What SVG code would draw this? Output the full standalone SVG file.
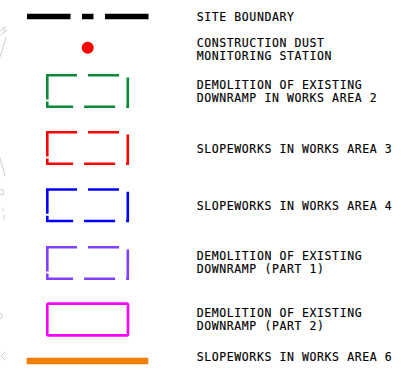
<svg xmlns="http://www.w3.org/2000/svg" width="401" height="375" viewBox="0 0 401 375">
<style>
.bg{fill:none;stroke:#cfcfcf;stroke-width:1;stroke-linecap:round}
.box{fill:none;stroke-width:2.6;stroke-linecap:square;stroke-linejoin:miter;stroke-dasharray:28.4 13.6 28.4 13.6 28.4 13.6 28.4 13.6 28.4 4.6 23 40}
.lbl{font-family:"DejaVu Sans Mono","Liberation Mono",monospace;font-size:11.5px;letter-spacing:0.6px;fill:#000;stroke:#000;stroke-width:0.15}
</style>
<rect width="401" height="375" fill="#fff"/>
<g id="background">
<path class="bg" d="M0,31 L6,27 M1,35 L7,30 M3,27 L5,32 M6,38 L0,57 M0,158 L5,176 M0,189 L4,191 L3,195 L0,194 M3,208 L3,211 M4,215 L4,220 M0,313 L3,316 L0,319 M5,352 L1,356 L5,360"/>
</g>
<g id="connectors"></g>
<g id="site-boundary">
<line x1="27" y1="16.5" x2="148.5" y2="16.5" stroke="#000" stroke-width="5.5" stroke-dasharray="43.5 11.5 11.5 11.5 43.5 50"/>
<text class="lbl" x="196.7" y="21">SITE BOUNDARY</text>
</g>
<g id="dust-station">
<circle cx="87.7" cy="47.7" r="6" fill="#ff0000"/>
<text class="lbl" x="196.7" y="46.5">CONSTRUCTION DUST</text>
<text class="lbl" x="196.7" y="60">MONITORING STATION</text>
</g>
<g id="works-area-2">
<path class="box" stroke="#0a8a3a" d="M47.3,75.3 h80.5 v31.5 h-80.5 z"/>
<text class="lbl" x="196.7" y="88.5">DEMOLITION OF EXISTING</text>
<text class="lbl" x="196.7" y="102">DOWNRAMP IN WORKS AREA 2</text>
</g>
<g id="works-area-3">
<path class="box" stroke="#ff0000" d="M47.3,132.3 h80.5 v31.5 h-80.5 z"/>
<text class="lbl" x="196.7" y="152.5">SLOPEWORKS IN WORKS AREA 3</text>
</g>
<g id="works-area-4">
<path class="box" stroke="#0000ff" d="M47.3,189.5 h80.5 v31.5 h-80.5 z"/>
<text class="lbl" x="196.7" y="210">SLOPEWORKS IN WORKS AREA 4</text>
</g>
<g id="downramp-part-1">
<path class="box" stroke="#8040ff" d="M47.3,247.3 h80.5 v31.5 h-80.5 z"/>
<text class="lbl" x="196.7" y="260">DEMOLITION OF EXISTING</text>
<text class="lbl" x="196.7" y="273">DOWNRAMP (PART 1)</text>
</g>
<g id="downramp-part-2">
<rect x="47.3" y="303.6" width="80.7" height="31.8" rx="1.5" fill="none" stroke="#ff00ff" stroke-width="2.6"/>
<text class="lbl" x="196.7" y="316.7">DEMOLITION OF EXISTING</text>
<text class="lbl" x="196.7" y="330">DOWNRAMP (PART 2)</text>
</g>
<g id="works-area-6">
<line x1="26.7" y1="361" x2="148.3" y2="361" stroke="#ef7f00" stroke-width="6.5"/>
<text class="lbl" x="196.7" y="360.5">SLOPEWORKS IN WORKS AREA 6</text>
</g>
</svg>
